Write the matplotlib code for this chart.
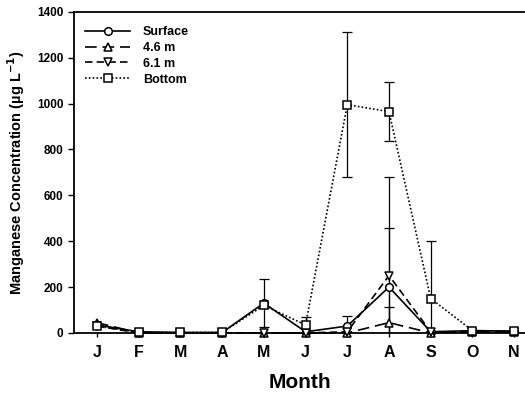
import matplotlib.pyplot as plt
import numpy as np

plt.rcParams['font.family'] = ['Liberation Sans', 'DejaVu Sans']
plt.rcParams['font.weight'] = 'bold'
plt.rcParams['mathtext.default'] = 'bf'

months = ['J', 'F', 'M', 'A', 'M', 'J', 'J', 'A', 'S', 'O', 'N']

# mean concentrations (ug/L)
surface = [35, 5, 2, 2, 130, 5, 30, 200, 5, 10, 8]
m46 = [45, 0, 0, 0, 0, 0, 0, 45, 0, 5, 5]
m61 = [30, 0, 0, 0, 0, 0, 5, 250, 5, 5, 5]
bottom = [30, 3, 2, 2, 120, 35, 995, 965, 150, 10, 8]

# standard errors
surface_err = [0, 0, 0, 0, 105, 0, 45, 258, 0, 0, 0]
m46_err = [0, 0, 0, 0, 0, 0, 0, 68, 0, 0, 0]
m61_err = [0, 0, 0, 0, 0, 0, 0, 430, 0, 0, 0]
bottom_err = [0, 0, 0, 0, 0, 35, 317, 130, 250, 0, 0]

x = np.arange(len(months))

fig = plt.figure(figsize=(5.25, 3.94), dpi=100)
ax = fig.add_axes([0.141, 0.155, 0.859, 0.815])

series = [
    ('Surface', surface, surface_err, 'o', '-'),
    ('4.6 m', m46, m46_err, '^', (0, (7, 3.5))),
    ('6.1 m', m61, m61_err, 'v', (0, (4.5, 2.5))),
    ('Bottom', bottom, bottom_err, 's', (0, (1, 1.3))),
]

for name, vals, err, mk, ls in series:
    vals = np.array(vals)
    err = np.array(err)
    has = err > 0
    if has.any():
        ax.errorbar(x[has], vals[has], yerr=err[has], fmt='none', ecolor='black',
                    elinewidth=0.9, capsize=3.5, capthick=0.9, zorder=2)
    ax.plot(x, vals, linestyle=ls, marker=mk, color='black', linewidth=1.2,
            markersize=5.5, markerfacecolor='white', markeredgecolor='black',
            markeredgewidth=1.1, label=name, clip_on=False, zorder=3)

ax.set_xlim(-0.55, 10.26)
ax.set_ylim(0, 1400)
ax.set_xticks(x)
ax.set_xticklabels(months, fontsize=11.5, fontweight='bold')
ax.set_yticks(np.arange(0, 1401, 200))
ax.tick_params(axis='y', labelsize=8.5, direction='out', length=4, width=1)
ax.tick_params(axis='x', direction='out', length=3, width=1, pad=6)
for lab in ax.get_yticklabels():
    lab.set_fontweight('bold')

ax.spines['right'].set_visible(False)
for s in ['left', 'bottom', 'top']:
    ax.spines[s].set_linewidth(1.3)

ax.set_ylabel('Manganese Concentration (\u00b5g L$^{-1}$)', fontsize=10.5,
              fontweight='bold', labelpad=7)
ax.set_xlabel('Month', fontsize=15, fontweight='bold', labelpad=9)

ax.legend(loc='upper left', bbox_to_anchor=(0.0, 0.99), frameon=False, fontsize=9,
          handlelength=3.6, handletextpad=1.0, labelspacing=0.3, borderaxespad=0.5)
for t in ax.get_legend().get_texts():
    t.set_fontweight('bold')

fig.savefig('out.png', dpi=100)
